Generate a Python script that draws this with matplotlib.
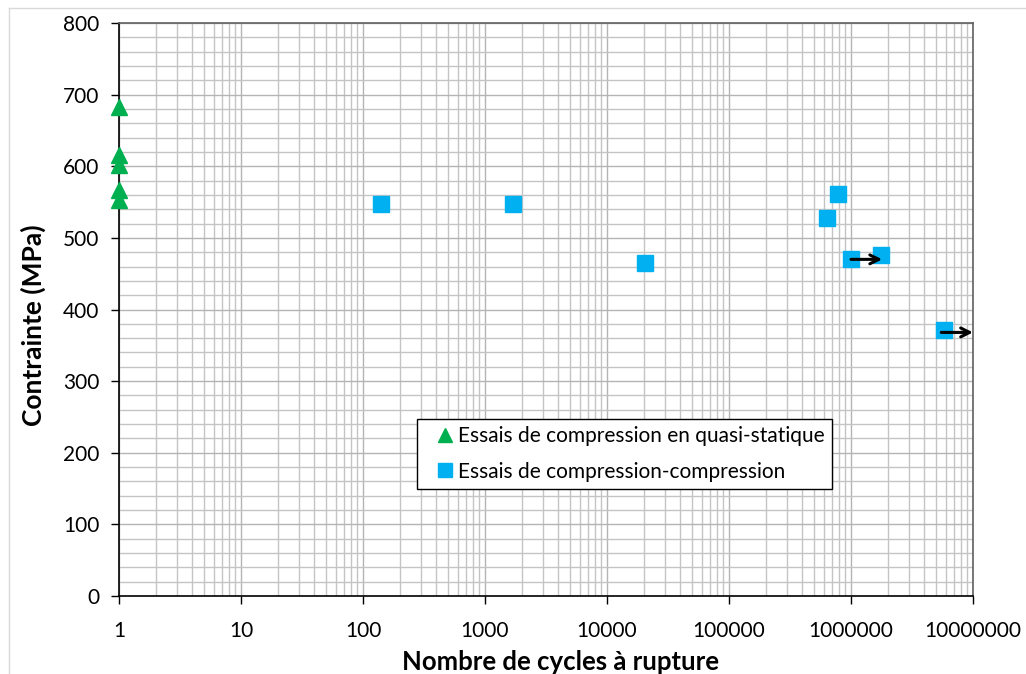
import matplotlib
matplotlib.use("Agg")
import matplotlib.pyplot as plt
from matplotlib.ticker import LogLocator, FixedLocator, MultipleLocator, NullFormatter
from matplotlib.lines import Line2D

plt.rcParams['font.family'] = ['Lato', 'DejaVu Sans']

# Data
quasi_static_cycles = [1, 1, 1, 1, 1]
quasi_static_stress = [683, 616, 602, 567, 553]

cc_cycles = [140, 1700, 20500, 635000, 780000, 1000000, 1760000, 5800000]
cc_stress = [547, 547, 465, 528, 561, 470, 476, 371]

# run-outs (arrow start, arrow end, stress)
arrow_start = [1000000, 5500000]
arrow_end = [1800000, 10000000]
arrow_stress = [470, 368]

x_ticks = [1, 10, 100, 1000, 10000, 100000, 1000000, 10000000]
x_tick_labels = ["1", "10", "100", "1000", "10000", "100000", "1000000", "10000000"]

labels = ["Essais de compression en quasi-statique", "Essais de compression-compression"]

fig = plt.figure(figsize=(10.26, 6.74), dpi=100)
ax = fig.add_axes([119/1026, 1-596/674, (973-119)/1026, (596-23)/674])

ax.plot(quasi_static_cycles, quasi_static_stress, linestyle='none', marker='^',
        markersize=12, color='#00B050', label=labels[0], zorder=5, clip_on=False)
ax.plot(cc_cycles, cc_stress, linestyle='none', marker='s',
        markersize=12, color='#00B0F0', label=labels[1], zorder=5, clip_on=False)

for x0, x1, s in zip(arrow_start, arrow_end, arrow_stress):
    ax.annotate('', xy=(x1, s), xytext=(x0, s),
                arrowprops=dict(arrowstyle='->', color='black', lw=2.2,
                                mutation_scale=16, shrinkA=0, shrinkB=0),
                zorder=6, annotation_clip=False)

ax.set_xscale('log')
ax.set_xlim(1, 1e7)
ax.set_ylim(0, 800)

ax.xaxis.set_major_locator(FixedLocator(x_ticks))
ax.xaxis.set_minor_locator(LogLocator(base=10, subs=range(2, 10), numticks=100))
ax.set_xticklabels(x_tick_labels)
ax.xaxis.set_minor_formatter(NullFormatter())
ax.yaxis.set_major_locator(MultipleLocator(100))
ax.yaxis.set_minor_locator(MultipleLocator(20))

ax.grid(which='major', color='#b4b4b4', lw=1.0)
ax.grid(which='minor', color='#c4c4c4', lw=1.0)
ax.set_axisbelow(True)

ax.tick_params(axis='both', which='major', direction='out', length=6, width=1,
               labelsize=15, color='black')
ax.tick_params(axis='x', which='major', pad=12)
ax.tick_params(axis='y', which='major', pad=8)
ax.tick_params(axis='both', which='minor', length=0)

for side in ['left', 'bottom']:
    ax.spines[side].set_color('black')
    ax.spines[side].set_linewidth(1.2)
for side in ['top', 'right']:
    ax.spines[side].set_color('#606060')
    ax.spines[side].set_linewidth(1.2)

ax.set_xlabel("Nombre de cycles à rupture", fontsize=18.5, fontweight='bold')
ax.xaxis.set_label_coords((560-119)/854, (596-650)/573)
ax.set_ylabel("Contrainte (MPa)", fontsize=19, fontweight='bold')
ax.yaxis.set_label_coords((46-119)/854, (596-325)/573)

leg = ax.legend(loc='lower left', bbox_to_anchor=(417/1026, 1-489/674), bbox_transform=fig.transFigure,
                fontsize=15, frameon=True, fancybox=False, handletextpad=-0.4,
                handlelength=2.0, borderpad=0.35, labelspacing=0.74, borderaxespad=0)
leg.get_frame().set_edgecolor('black')
leg.get_frame().set_linewidth(1.0)
leg.get_frame().set_alpha(1)
for h in leg.legend_handles:
    h.set_markersize(9.5)

# outer chart border (only left and top edges are visible in the crop)
fig.add_artist(Line2D([9/1026, 9/1026], [0, 1-8/674], transform=fig.transFigure, color='#d9d9d9', lw=1))
fig.add_artist(Line2D([9/1026, 1], [1-8/674, 1-8/674], transform=fig.transFigure, color='#d9d9d9', lw=1))

fig.savefig("out.png", dpi=100)
